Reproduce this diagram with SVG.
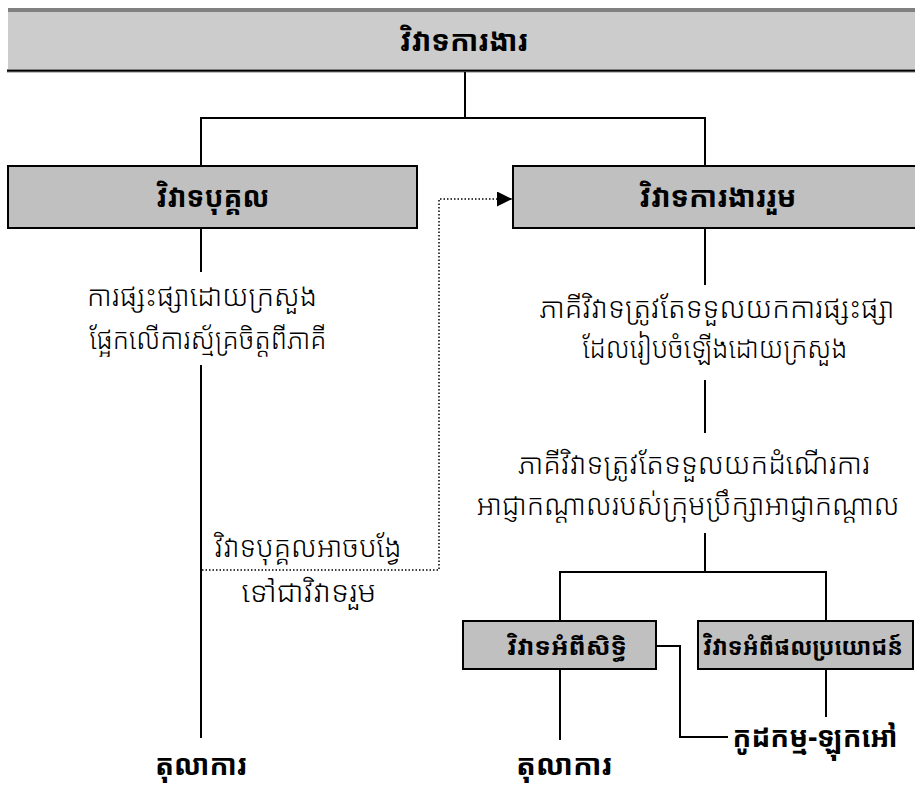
<svg xmlns="http://www.w3.org/2000/svg" width="915" height="785" viewBox="0 0 915 785">
<style>
text{font-family:"Noto Sans Khmer","Noto Serif Khmer","Khmer OS","Khmer OS System","DejaVu Sans",sans-serif;fill:#000;text-anchor:middle}
.b{font-weight:bold;font-size:29px}
.s{font-weight:bold;font-size:24px}
.r{font-size:28px;font-weight:300}
.box{fill:#c0c0c0;stroke:#000;stroke-width:2}
.ln{fill:none;stroke:#000;stroke-width:2}
.dot{fill:none;stroke:#000;stroke-width:1.5;stroke-dasharray:1.5 2}
</style>
<defs>
<marker id="ah2" viewBox="0 0 15 15" markerWidth="15" markerHeight="15" refX="15" refY="7.5" orient="auto" markerUnits="userSpaceOnUse"><path d="M0,0 L15,7.5 L0,15 Z" fill="#000"/></marker>
</defs>
<g id="banner">
<rect x="8" y="8" width="920" height="62" fill="#cccccc"/>
<rect x="8" y="8" width="920" height="4" fill="#808080"/>
<line x1="7" y1="70.7" x2="915" y2="70.7" stroke="#808080" stroke-width="3.5"/>
<line x1="7" y1="70.7" x2="915" y2="70.7" stroke="#000" stroke-width="1.6"/>
<text class="b" x="464" y="51" textLength="128" lengthAdjust="spacingAndGlyphs">វិវាទការងារ</text>
</g>
<g id="connectors">
<path class="ln" d="M465,72 V118 M201,165 V118 H705 V165"/>
<path class="ln" d="M201,228 V272 M201,365 V738"/>
<path class="ln" d="M705,228 V285 M705,380 V433 M705,533 V572 M560,621 V572 H826 V621"/>
<path class="ln" d="M560,669 V740 M826,669 V717 M656,646 H680 V737 H728"/>
<path class="dot" d="M202,570 H439 V199 H512" marker-end="url(#ah2)"/>
</g>
<g id="individual">
<rect class="box" x="8" y="166" width="409" height="62"/>
<text class="b" x="213" y="207" textLength="113" lengthAdjust="spacingAndGlyphs">វិវាទបុគ្គល</text>
</g>
<g id="collective">
<rect class="box" x="513" y="166" width="410" height="62"/>
<text class="b" x="718" y="207" textLength="157" lengthAdjust="spacingAndGlyphs">វិវាទការងាររួម</text>
</g>
<g id="conciliation-note">
<text class="r" x="202" y="306" textLength="230" lengthAdjust="spacingAndGlyphs">ការផ្សះផ្សាដោយក្រសួង</text>
<text class="r" x="208" y="349" textLength="237" lengthAdjust="spacingAndGlyphs">ផ្អែកលើការស្ម័គ្រចិត្តពីភាគី</text>
</g>
<g id="collective-note1">
<text class="r" x="717" y="318" textLength="355" lengthAdjust="spacingAndGlyphs">ភាគីវិវាទត្រូវតែទទួលយកការផ្សះផ្សា</text>
<text class="r" x="715" y="358" textLength="265" lengthAdjust="spacingAndGlyphs">ដែលរៀបចំឡើងដោយក្រសួង</text>
</g>
<g id="collective-note2">
<text class="r" x="694" y="474" textLength="352" lengthAdjust="spacingAndGlyphs">ភាគីវិវាទត្រូវតែទទួលយកដំណើរការ</text>
<text class="r" x="688" y="515" textLength="423" lengthAdjust="spacingAndGlyphs">អាជ្ញាកណ្តាលរបស់ក្រុមប្រឹក្សាអាជ្ញាកណ្តាល</text>
</g>
<g id="convert-note">
<text class="r" x="308" y="557" textLength="187" lengthAdjust="spacingAndGlyphs">វិវាទបុគ្គលអាចបង្វែ</text>
<text class="r" x="309" y="602" textLength="135" lengthAdjust="spacingAndGlyphs">ទៅជាវិវាទរួម</text>
</g>
<g id="rights">
<rect class="box" x="463" y="621" width="193" height="48"/>
<text class="s" x="567" y="655" textLength="120" lengthAdjust="spacingAndGlyphs">វិវាទអំពីសិទ្ធិ</text>
</g>
<g id="interests">
<rect class="box" x="698" y="621" width="215" height="48"/>
<text class="s" x="803" y="655" textLength="200" lengthAdjust="spacingAndGlyphs">វិវាទអំពីផលប្រយោជន៍</text>
</g>
<g id="court1">
<text class="b" x="201" y="775" textLength="92" lengthAdjust="spacingAndGlyphs">តុលាការ</text>
</g>
<g id="court2">
<text class="b" x="564" y="775" textLength="96" lengthAdjust="spacingAndGlyphs">តុលាការ</text>
</g>
<g id="strike">
<text class="b" x="815" y="747" textLength="165" lengthAdjust="spacingAndGlyphs">កូដកម្ម-ឡុកអៅ</text>
</g>
</svg>
